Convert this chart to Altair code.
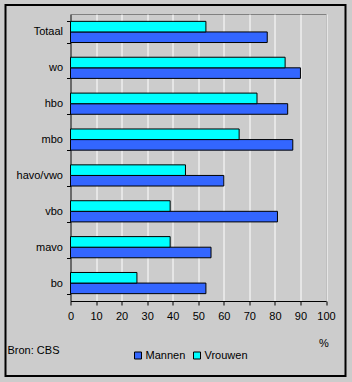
import altair as alt
import pandas as pd

categories = ["Totaal", "wo", "hbo", "mbo", "havo/vwo", "vbo", "mavo", "bo"]
mannen = [77, 90, 85, 87, 60, 81, 55, 53]
vrouwen = [53, 84, 73, 66, 45, 39, 39, 26]
series = ["Mannen", "Vrouwen"]
x_ticks = [0, 10, 20, 30, 40, 50, 60, 70, 80, 90, 100]

rows = []
for c, m, v in zip(categories, mannen, vrouwen):
    rows.append({"cat": c, "serie": "Mannen", "val": m})
    rows.append({"cat": c, "serie": "Vrouwen", "val": v})
df = pd.DataFrame(rows)

FONT = "Liberation Sans"
BG = "#CCCCCC"

bars = alt.Chart(df).mark_bar(stroke="black", strokeWidth=1).encode(
    x=alt.X("val:Q", scale=alt.Scale(domain=[0, 100], nice=False),
            axis=alt.Axis(values=x_ticks, title="%", grid=True, gridColor="white",
                          gridWidth=1, domainColor="black", tickColor="black",
                          tickSize=4, labelPadding=5, labelFontSize=11,
                          labelFlush=False, labelOverlap=False,
                          labelFont=FONT, labelColor="black",
                          titleFont=FONT, titleFontSize=11, titleFontWeight="normal",
                          titleX=253, titleY=36, titleColor="black")),
    y=alt.Y("cat:N", sort=categories,
            scale=alt.Scale(paddingInner=0.41, paddingOuter=0.205),
            axis=alt.Axis(title=None, tickBand="extent", domainColor="black",
                          tickColor="black", tickSize=4, labelPadding=4,
                          labelFontSize=11, labelFont=FONT, labelColor="black",
                          grid=False)),
    yOffset=alt.YOffset("serie:N", sort=["Vrouwen", "Mannen"]),
    color=alt.Color("serie:N",
                    scale=alt.Scale(domain=series, range=["#3366FF", "#00FFFF"]),
                    legend=alt.Legend(title=None, orient="none", direction="horizontal",
                                      legendX=62, legendY=336, symbolType="square",
                                      symbolSize=49, symbolStrokeColor="black",
                                      symbolStrokeWidth=1, labelFont=FONT,
                                      labelFontSize=11, labelColor="black",
                                      columnPadding=6, symbolOffset=0, labelOffset=2)),
)

frame_df = pd.DataFrame({"k": [0]})
frame = alt.Chart(frame_df).mark_rect(fill=None, stroke="black", strokeWidth=2).encode(
    x=alt.value(-65), x2=alt.value(275), y=alt.value(-9), y2=alt.value(362)
)

bron = alt.Chart(pd.DataFrame({"t": ["Bron: CBS"]})).mark_text(
    align="left", baseline="middle", font=FONT, fontSize=11, color="black"
).encode(x=alt.value(-63), y=alt.value(337), text="t:N")

chart = alt.layer(bars, frame, bron).properties(
    width=255.5, height=287,
    background=BG,
    autosize=alt.AutoSizeParams(type="none"),
    padding={"left": 70.5, "top": 14, "right": 26, "bottom": 81},
).configure_view(stroke="#808080", strokeWidth=1, fill=BG)

chart.save("out.html", embed_options={"renderer": "svg", "actions": False})
